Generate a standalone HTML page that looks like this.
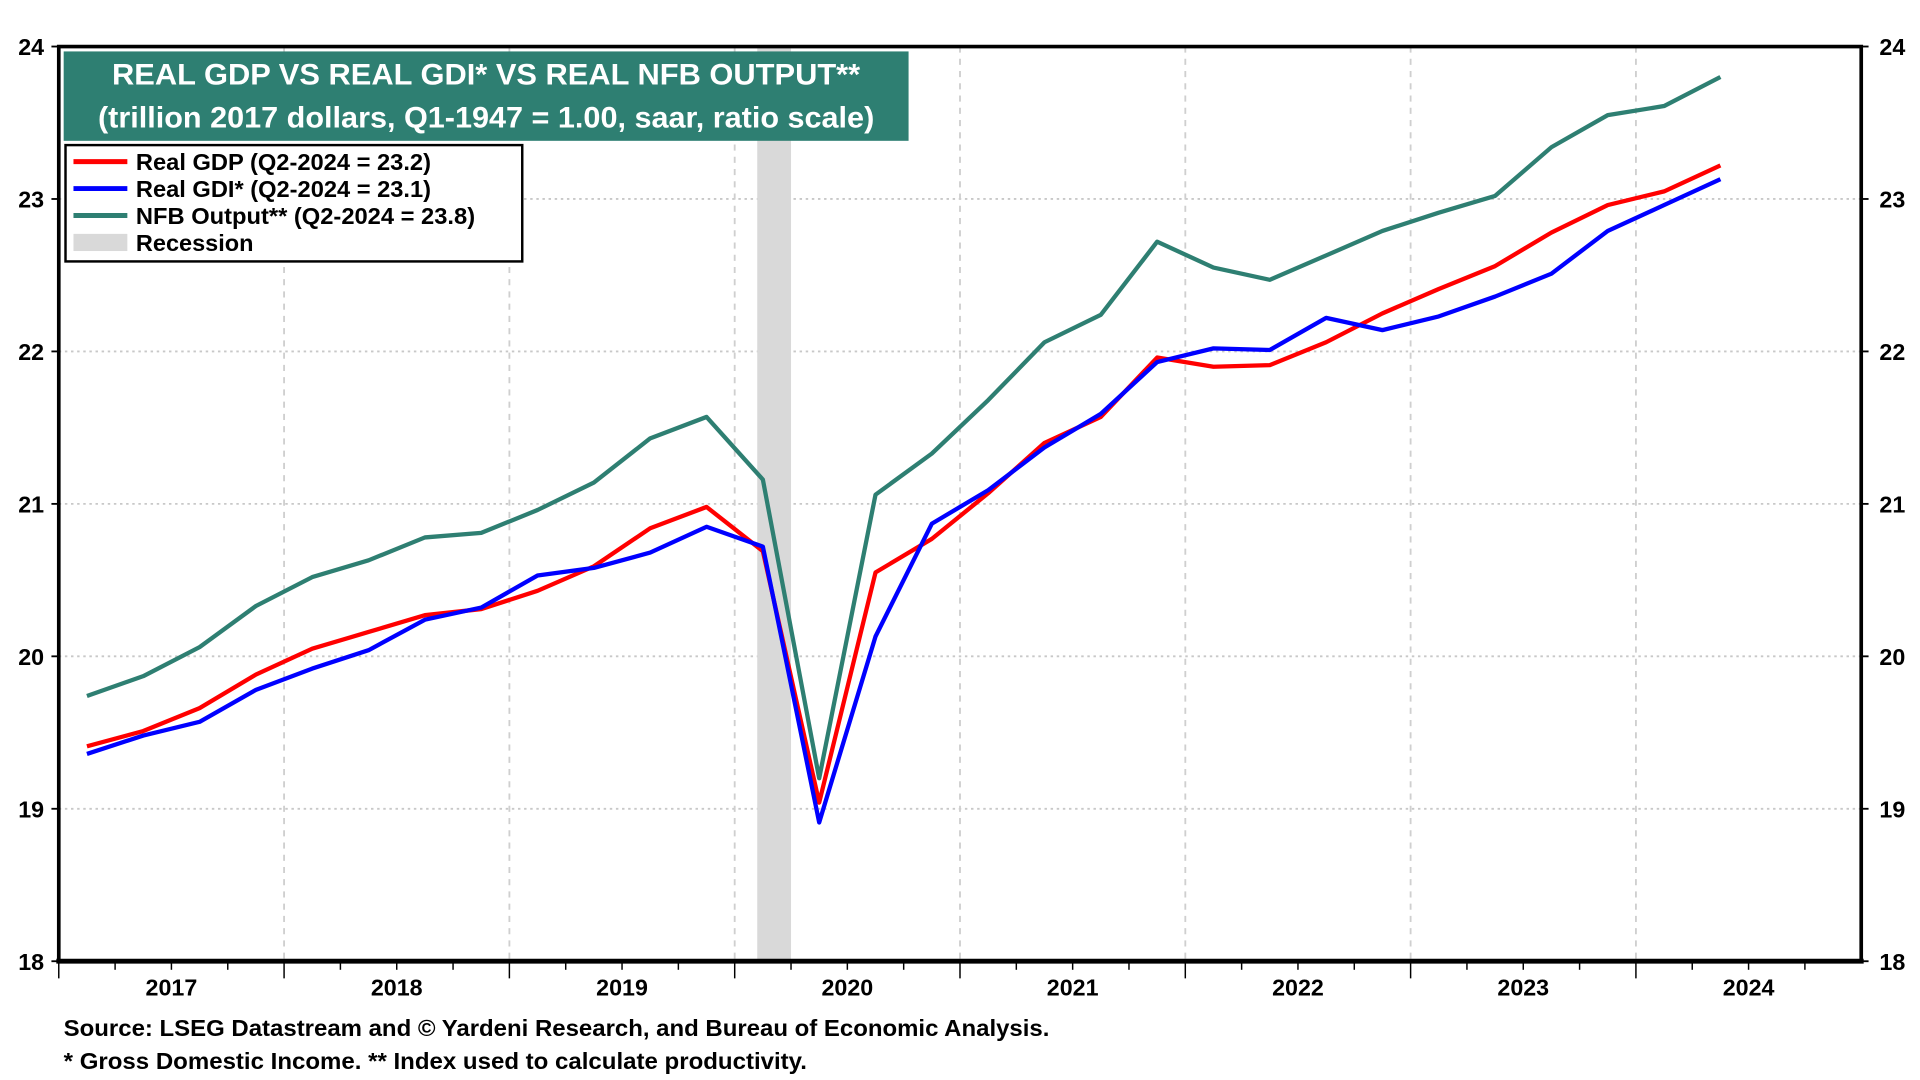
<!DOCTYPE html>
<html><head><meta charset="utf-8"><style>
html,body{margin:0;padding:0;background:#fff}
svg{display:block;font-family:"Liberation Sans",Arial,sans-serif;font-weight:bold}
</style></head><body>
<svg id="chart" width="1920" height="1080" viewBox="0 0 1568 882" xmlns="http://www.w3.org/2000/svg">
<g id="grid"></g>
<g id="recession"></g>
<g id="series"></g>
<g id="axes"></g>
<g>
<rect x="52" y="42" width="690" height="73" fill="#2e7f72"/>
<text x="397" y="69" fill="#fff" font-size="24.5" text-anchor="middle" textLength="611" lengthAdjust="spacingAndGlyphs">REAL GDP VS REAL GDI* VS REAL NFB OUTPUT**</text>
<text x="397" y="104" fill="#fff" font-size="24.5" text-anchor="middle" textLength="634" lengthAdjust="spacingAndGlyphs">(trillion 2017 dollars, Q1-1947 = 1.00, saar, ratio scale)</text>
</g>
<g>
<rect x="53.5" y="118.5" width="373" height="95" fill="#fff" stroke="#000" stroke-width="2"/>
<line x1="60" y1="132" x2="104" y2="132" stroke="#ff0000" stroke-width="4"/>
<text x="111" y="139" font-size="19" textLength="241" lengthAdjust="spacingAndGlyphs">Real GDP (Q2-2024 = 23.2)</text>
<line x1="60" y1="154" x2="104" y2="154" stroke="#0000ff" stroke-width="4"/>
<text x="111" y="161" font-size="19" textLength="241" lengthAdjust="spacingAndGlyphs">Real GDI* (Q2-2024 = 23.1)</text>
<line x1="60" y1="176" x2="104" y2="176" stroke="#2e7f72" stroke-width="4"/>
<text x="111" y="183" font-size="19" textLength="277" lengthAdjust="spacingAndGlyphs">NFB Output** (Q2-2024 = 23.8)</text>
<rect x="60" y="191" width="44" height="14" fill="#d9d9d9"/>
<text x="111" y="205" font-size="19" textLength="96" lengthAdjust="spacingAndGlyphs">Recession</text>
</g>
<text x="52" y="846" font-size="19" textLength="805" lengthAdjust="spacingAndGlyphs">Source: LSEG Datastream and © Yardeni Research, and Bureau of Economic Analysis.</text>
<text x="52" y="873" font-size="19" textLength="607" lengthAdjust="spacingAndGlyphs">* Gross Domestic Income. ** Index used to calculate productivity.</text>
</svg>
<script>
const gdp=[19.41,19.51,19.66,19.88,20.05,20.16,20.27,20.31,20.43,20.59,20.84,20.98,20.69,19.04,20.55,20.77,21.07,21.40,21.57,21.96,21.90,21.91,22.06,22.25,22.41,22.56,22.78,22.96,23.05,23.22];
const gdi=[19.36,19.48,19.57,19.78,19.92,20.04,20.24,20.32,20.53,20.58,20.68,20.85,20.72,18.91,20.13,20.87,21.09,21.37,21.59,21.93,22.02,22.01,22.22,22.14,22.23,22.36,22.51,22.79,22.96,23.13];
const nfb=[19.74,19.87,20.06,20.33,20.52,20.63,20.78,20.81,20.96,21.14,21.43,21.57,21.16,19.20,21.06,21.33,21.68,22.06,22.24,22.72,22.55,22.47,22.63,22.79,22.91,23.02,23.34,23.55,23.61,23.80];
const startYear=2017;
const yTicks=[18,19,20,21,22,23,24];
const years=[2017,2018,2019,2020,2021,2022,2023,2024];
const recessionStart=2020.1, recessionEnd=2020.25;
const NS="http://www.w3.org/2000/svg";
const L=48,R=1520,T=38,B=785;
const xs=t=>L+(t-2017)/8*(R-L);
const ys=v=>B-(v-18)/6*(B-T);
function mk(tag,attrs,parent){const e=document.createElementNS(NS,tag);for(const k in attrs)e.setAttribute(k,attrs[k]);parent.appendChild(e);return e;}
const grid=document.getElementById('grid'),axes=document.getElementById('axes'),ser=document.getElementById('series'),rec=document.getElementById('recession');
yTicks.forEach(v=>{
 if(v>18&&v<24){const g=mk('line',{x1:L,x2:R,y1:ys(v),y2:ys(v),stroke:'#c8c8c8','stroke-width':1.5,'stroke-dasharray':'2,3'},grid);
 
 }
 [0,1].forEach(i=>{const t=mk('text',{x:i?1556:36,y:ys(v)+7,'font-size':19,'text-anchor':'end'},axes);t.textContent=v;
 
 });
 mk('line',{x1:L-6,x2:L,y1:ys(v),y2:ys(v),stroke:'#000','stroke-width':1.5},axes);
 mk('line',{x1:R,x2:R+6,y1:ys(v),y2:ys(v),stroke:'#000','stroke-width':1.5},axes);
});
years.forEach((y,i)=>{
 if(i>0){const g=mk('line',{x1:xs(y),x2:xs(y),y1:T,y2:B,stroke:'#cfcfcf','stroke-width':1.5,'stroke-dasharray':'5,5'},grid);
 
 }
 const t=mk('text',{x:xs(y+0.5),y:B+28,'font-size':19,'text-anchor':'middle'},axes);t.textContent=y;
 
 
 for(let q=0;q<4;q++)mk('line',{x1:xs(y+q/4),x2:xs(y+q/4),y1:B,y2:B+(q?7:14),stroke:'#000','stroke-width':1.2},axes);
});
const rr=mk('rect',{x:xs(recessionStart),y:T,width:xs(recessionEnd)-xs(recessionStart),height:B-T,fill:'#d9d9d9'},rec);


mk('path',{d:`M${L},${B} L${L},${T} L${R},${T} L${R},${B}`,fill:'none',stroke:'#000','stroke-width':3},axes);
mk('line',{x1:L-2,x2:R+2,y1:B,y2:B,stroke:'#000','stroke-width':4},axes);
[[nfb,'#2e7f72','nfb-output-line'],[gdp,'#ff0000','real-gdp-line'],[gdi,'#0000ff','real-gdi-line']].forEach(([d,c,n])=>{
 const p=d.map((v,i)=>(i?'L':'M')+xs(startYear+(i+0.5)/4).toFixed(1)+','+ys(v).toFixed(1)).join(' ');
 const e=mk('path',{d:p,fill:'none',stroke:c,'stroke-width':3.5,'stroke-linejoin':'round'},ser);
 
 
});
</script>
</body></html>
